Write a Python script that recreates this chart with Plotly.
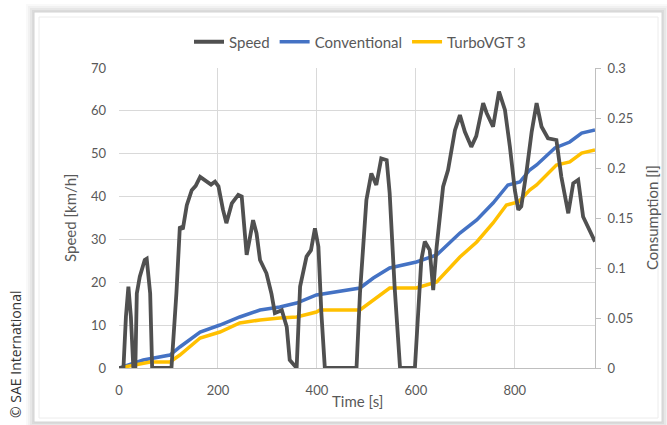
import plotly.graph_objects as go

# ---- data ----
speed_t = [0, 9, 14, 19, 24, 29, 33, 36, 42, 52, 56, 63, 67, 106, 116, 123, 129, 137, 147, 155, 164,
           171, 178, 186, 194, 201, 210, 217, 228, 241, 248, 258, 264, 271, 278, 285, 298, 308, 315,
           329, 339, 345, 359, 366, 379, 388, 396, 403, 409, 416, 480, 487, 500, 510, 520, 530, 541,
           547, 557, 568, 598, 605, 611, 618, 628, 635, 642, 655, 665, 679, 689, 699, 712, 722, 736,
           743, 756, 768, 780, 790, 800, 807, 813, 824, 834, 844, 854, 867, 884, 894, 908, 918, 928,
           938, 948, 962]
speed = [0, 0, 12, 19, 12, 0, 0, 17.4, 21.3, 25.2, 25.5, 17.4, 0, 0, 17.4, 33, 32.4, 38, 41.5, 42.5, 44.6,
         44, 43.5, 42.8, 43.5, 42.4, 37, 33.8, 38.4, 40.4, 40, 26.4, 30, 34.5, 31.4, 25.2, 22.1, 17.4, 12.8,
         13.5, 9.6, 1.9, 0, 19, 26, 27.5, 32.6, 28.3, 12.8, 0, 0, 17.4, 39.2, 45.4, 42.7, 48.9, 48.5,
         40.8, 19, 0, 0, 14, 25.2, 29.5, 27.5, 18.2, 28.3, 42.3, 46.2, 55.5, 59, 55.1, 51.6, 54.1, 61.8,
         59.5, 56.3, 64.5, 60.2, 51.6, 41.5, 36.9, 37.7, 46.2, 55.1, 61.8, 56.3, 53.6, 53.2, 44.6, 36.1,
         43.1, 43.9, 35.3, 33, 29.5]

conv_t = [0, 49, 103, 123, 164, 204, 244, 285, 325, 359, 399, 426, 487, 514, 547, 601, 642, 689, 723,
          756, 786, 810, 830, 844, 881, 911, 935, 962]
conv = [0, 0.008, 0.013, 0.021, 0.036, 0.043, 0.051, 0.058, 0.061, 0.065, 0.073, 0.075, 0.080, 0.090,
        0.100, 0.106, 0.113, 0.135, 0.148, 0.165, 0.183, 0.186, 0.198, 0.203, 0.220, 0.226, 0.235, 0.238]

turbo_t = [0, 29, 63, 103, 123, 164, 204, 244, 285, 325, 359, 399, 406, 487, 547, 601, 642, 689, 723,
           756, 783, 807, 830, 844, 884, 911, 935, 962]
turbo = [0, 0.003, 0.006, 0.006, 0.013, 0.030, 0.036, 0.045, 0.048, 0.050, 0.051, 0.056, 0.058, 0.058,
         0.080, 0.080, 0.086, 0.111, 0.126, 0.145, 0.163, 0.166, 0.178, 0.183, 0.203, 0.206, 0.215, 0.218]

x_ticks = [0, 200, 400, 600, 800]

# ---- layout geometry ----
W, H = 667, 425
L, R, T, B = 119, 72, 68, 57
PW, PH = W - L - R, H - T - B


def px(x):
    return (x - L) / PW


def py(y):
    return (H - B - y) / PH


FONT = "Lato"
GREY = "#595959"

fig = go.Figure()
fig.add_trace(go.Scatter(x=conv_t, y=conv, name="Conventional", mode="lines",
                         line=dict(color="#4472C4", width=3.5), yaxis="y", legendrank=2))
fig.add_trace(go.Scatter(x=turbo_t, y=turbo, name="TurboVGT 3", mode="lines",
                         line=dict(color="#FFC000", width=3.5), yaxis="y", legendrank=3))
fig.add_trace(go.Scatter(x=speed_t, y=speed, name="Speed", mode="lines",
                         line=dict(color="#505050", width=3.8), yaxis="y2", legendrank=1))

shapes = []
# soft shadow around the chart frame
for i, a in enumerate([0.025, 0.03, 0.04, 0.05]):
    d = 8 - 2 * i
    shapes.append(dict(type="rect", xref="paper", yref="paper", layer="below",
                       x0=px(34 - d), x1=px(662 + d), y0=py(422 + d), y1=py(12 - d),
                       line=dict(width=0), fillcolor=f"rgba(0,0,0,{a})"))
shapes.append(dict(type="rect", xref="paper", yref="paper", layer="below",
                   x0=px(34), x1=px(662), y0=py(422), y1=py(12),
                   line=dict(color="#d4d4d4", width=1), fillcolor="white"))
shapes.append(dict(type="rect", xref="paper", yref="paper", layer="below",
                   x0=px(39), x1=px(658), y0=py(418), y1=py(17),
                   line=dict(color="#ececec", width=1), fillcolor="rgba(0,0,0,0)"))

ann_common = dict(xref="paper", yref="paper", showarrow=False, xanchor="center", yanchor="middle")
annotations = [
    dict(text="Speed [km/h]", x=px(70), y=py(218), textangle=-90,
         font=dict(family=FONT, size=15, color=GREY), **ann_common),
    dict(text="Consumption [l]", x=px(652), y=py(218), textangle=-90,
         font=dict(family=FONT, size=15, color=GREY), **ann_common),
    dict(text="Time [s]", x=px(357), y=py(401),
         font=dict(family=FONT, size=15, color=GREY), **ann_common),
    dict(text="© SAE International", x=px(15), y=py(354), textangle=-90,
         font=dict(family="Open Sans", size=14, color="#333333"), **ann_common),
]

fig.update_layout(
    width=W, height=H,
    margin=dict(l=L, r=R, t=T, b=B),
    paper_bgcolor="white", plot_bgcolor="rgba(0,0,0,0)",
    font=dict(family=FONT, size=13, color=GREY),
    showlegend=True,
    legend=dict(orientation="h", x=px(360), xanchor="center", y=py(42), yanchor="middle",
                font=dict(family=FONT, size=15, color=GREY), traceorder="normal",
                bgcolor="rgba(0,0,0,0)", itemwidth=30),
    xaxis=dict(range=[0, 962], tickvals=x_ticks, showgrid=True, gridcolor="#d9d9d9", gridwidth=1,
               zeroline=False, showline=True, linecolor="#bfbfbf", linewidth=1, ticks="",
               tickfont=dict(family=FONT, size=13, color=GREY), ticklabelstandoff=10),
    yaxis=dict(range=[0, 0.3], dtick=0.05, side="right", showgrid=False, zeroline=False,
               showline=True, linecolor="#bfbfbf", ticks="outside", ticklen=5, tickcolor="#bfbfbf",
               tickfont=dict(family=FONT, size=13, color=GREY), ticklabelstandoff=4,
               tickformat="~g"),
    yaxis2=dict(range=[0, 70], dtick=10, side="left", overlaying="y", showgrid=True,
                gridcolor="#d9d9d9", zeroline=False, showline=False, ticks="",
                tickfont=dict(family=FONT, size=13, color=GREY), ticklabelstandoff=12),
    shapes=shapes,
    annotations=annotations,
)

fig.write_html("out.html", config={"displayModeBar": False},
               post_script="document.body.style.margin='0px';")
